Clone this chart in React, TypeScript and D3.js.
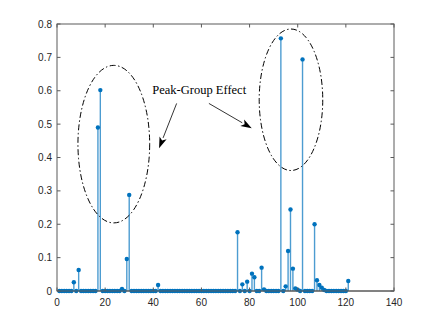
import React from 'react';
import * as d3 from 'd3';

// stem values at sample index 1..121
const values = [
  0, 0, 0, 0, 0, 0, 0.026, 0, 0.063, 0,
  0, 0, 0, 0, 0, 0, 0.49, 0.602, 0, 0,
  0, 0, 0, 0, 0, 0, 0.006, 0, 0.096, 0.288,
  0, 0, 0, 0, 0, 0, 0, 0, 0, 0,
  0, 0.018, 0, 0, 0, 0, 0, 0, 0, 0,
  0, 0, 0, 0, 0, 0, 0, 0, 0, 0,
  0, 0, 0, 0, 0, 0, 0, 0, 0, 0,
  0, 0, 0, 0, 0.176, 0, 0.02, 0, 0.028, 0,
  0.052, 0.041, 0, 0, 0.07, 0.005, 0, 0, 0, 0,
  0, 0, 0.757, 0, 0.014, 0.12, 0.244, 0.067, 0.008, 0.004,
  0, 0.694, 0, 0, 0, 0, 0.2, 0.032, 0.018, 0.01,
  0.003, 0, 0, 0, 0, 0, 0, 0, 0, 0,
  0.03,
];
const firstIndex = 1;

const xTicks = [0, 20, 40, 60, 80, 100, 120, 140];
const yTicks = [0, 0.1, 0.2, 0.3, 0.4, 0.5, 0.6, 0.7, 0.8];

// annotation: ellipses [cx, cy, rx, ry] in data units
const groups = [
  [23.6, 0.44, 14.9, 0.236],
  [97.2, 0.573, 13.2, 0.212],
];
const arrows = [
  [49.7, 0.562, 42.4, 0.428],
  [63.1, 0.562, 80.9, 0.4875],
];
const label = 'Peak-Group Effect';

const W = 436;
const H = 327;
const blue = '#0072BD';
const axisColor = '#262626';

export default function App() {
  const x = d3.scaleLinear().domain([0, 140]).range([57, 394]);
  const y = d3.scaleLinear().domain([0, 0.8]).range([291, 24]);
  const [x0, x1] = x.range();
  const [y0, y1] = y.range();

  const pts = values.map((v, i) => ({ i: i + firstIndex, v }));

  const arrowHead = (ax: number, ay: number, bx: number, by: number) => {
    const px1 = x(ax), py1 = y(ay), px2 = x(bx), py2 = y(by);
    const ang = Math.atan2(py2 - py1, px2 - px1);
    const len = 11, half = 3.8;
    const bxp = px2 - len * Math.cos(ang), byp = py2 - len * Math.sin(ang);
    const nx = -Math.sin(ang), ny = Math.cos(ang);
    return {
      line: `M${px1},${py1}L${bxp},${byp}`,
      head: `M${px2},${py2}L${bxp + nx * half},${byp + ny * half}L${bxp + (px2 - bxp) * 0.25},${byp + (py2 - byp) * 0.25}L${bxp - nx * half},${byp - ny * half}Z`,
    };
  };

  return (
    <svg width={W} height={H} style={{ position: 'absolute', left: 0, top: 0, background: '#fff' }}
      fontFamily="'Liberation Sans', Arial, sans-serif">
      {/* stems */}
      {pts.filter(p => p.v > 0).map(p => (
        <line key={'s' + p.i} x1={x(p.i)} x2={x(p.i)} y1={y(0)} y2={y(p.v)} stroke={blue} strokeOpacity={0.7} strokeWidth={1.4} />
      ))}
      {/* baseline */}
      <line x1={x0} x2={x1} y1={y(0)} y2={y(0)} stroke="#555" strokeWidth={1} />
      {/* markers */}
      {pts.map(p => (
        <circle key={'m' + p.i} cx={x(p.i)} cy={y(p.v)} r={2.2} fill={blue} />
      ))}

      {/* axes box */}
      <rect x={x0} y={y1} width={x1 - x0} height={y0 - y1} fill="none" stroke="#5a5a5a" strokeWidth={1} />
      {xTicks.map(t => (
        <g key={'xt' + t}>
          <line x1={x(t)} x2={x(t)} y1={y0} y2={y0 - 3.5} stroke="#5a5a5a" />
          <line x1={x(t)} x2={x(t)} y1={y1} y2={y1 + 3.5} stroke="#5a5a5a" />
          <text x={x(t)} y={y0 + 15} fontSize={10} fill={axisColor} textAnchor="middle">{t}</text>
        </g>
      ))}
      {yTicks.map(t => (
        <g key={'yt' + t}>
          <line x1={x0} x2={x0 + 3.5} y1={y(t)} y2={y(t)} stroke="#5a5a5a" />
          <line x1={x1} x2={x1 - 3.5} y1={y(t)} y2={y(t)} stroke="#5a5a5a" />
          <text x={x0 - 5} y={y(t) + 3.5} fontSize={10} fill={axisColor} textAnchor="end">{t}</text>
        </g>
      ))}

      {/* annotation */}
      {groups.map((g, k) => (
        <ellipse key={'e' + k} cx={x(g[0])} cy={y(g[1])}
          rx={x(g[0] + g[2]) - x(g[0])} ry={y(g[1]) - y(g[1] + g[3])}
          fill="none" stroke="#000" strokeWidth={1} strokeDasharray="6,2.5,1.5,2.5" />
      ))}
      {arrows.map((a, k) => {
        const ah = arrowHead(a[0], a[1], a[2], a[3]);
        return (
          <g key={'a' + k}>
            <path d={ah.line} stroke="#000" strokeWidth={0.8} fill="none" />
            <path d={ah.head} fill="#000" />
          </g>
        );
      })}
      <text x={x(39.6)} y={y(0.59)} fontSize={12.5} fontFamily="'Liberation Serif', 'Times New Roman', serif" fill="#000">{label}</text>
    </svg>
  );
}
